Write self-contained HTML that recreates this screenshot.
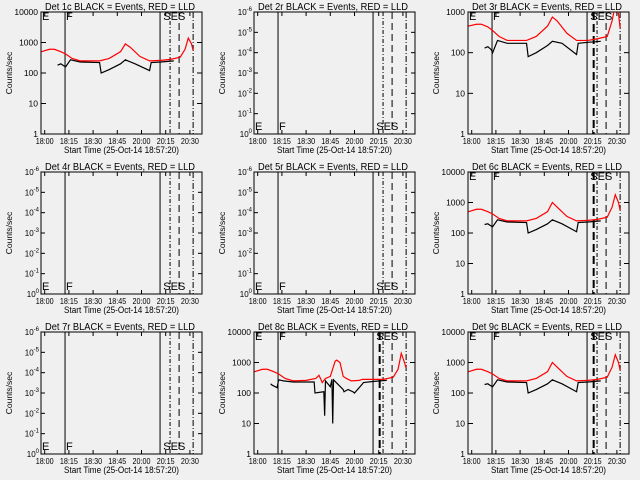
<!DOCTYPE html>
<html><head><meta charset="utf-8"><style>
html,body{margin:0;padding:0;background:#f0f0f0;}
svg{display:block;font-family:"Liberation Sans",sans-serif;}
</style></head><body>
<svg id="c" width="640" height="480" viewBox="0 0 640 480"><defs><clipPath id="pc"><rect x="41" y="12" width="161" height="122"/></clipPath></defs></svg>
<script>
const titles = ["Det 1c BLACK = Events, RED = LLD","Det 2r BLACK = Events, RED = LLD","Det 3r BLACK = Events, RED = LLD","Det 4r BLACK = Events, RED = LLD","Det 5r BLACK = Events, RED = LLD","Det 6c BLACK = Events, RED = LLD","Det 7r BLACK = Events, RED = LLD","Det 8c BLACK = Events, RED = LLD","Det 9c BLACK = Events, RED = LLD"];
const xTickMinutes = [0,15,30,45,60,75,90];
const xTickLabels = ["18:00","18:15","18:30","18:45","20:00","20:15","20:30"];
const markerMinutes = [12.6,71.5,77.7,83.3,92];
const redT = [-2,3,6,10,13,17,22,30,34,40,47,50,53,59,65,72,78,84,87,89,91,92];
const red1 = [500,600,600,500,420,300,250,250,250,300,500,900,700,350,250,260,280,330,600,1400,900,550];
const red3 = [450,500,500,430,350,250,200,200,200,250,450,750,600,300,200,200,220,250,600,1500,900,400];
const red6 = [500,600,600,500,420,300,250,250,250,300,500,1000,700,350,250,260,280,330,700,1800,1000,550];
const blkT = [8,10,12,13,16,22,34,35,40,47,50,56,65,66,72,80];
const blk1 = [180,200,170,160,270,230,220,100,130,200,270,200,120,220,230,250];
const blk3 = [130,140,120,100,200,170,170,80,100,150,190,170,90,170,180,190];
const blk6 = [190,200,170,160,270,230,220,100,130,200,270,200,110,220,230,250];
const red8T = [-2,3,6,10,13,17,22,30,36,38,40,42,45,48,49,51,53,55,58,63,65,72,78,84,87,89,91,92];
const red8 = [500,600,600,500,420,300,250,260,300,380,220,300,350,1100,1200,1000,350,300,250,260,280,280,280,330,600,2000,1000,650];
const blk8T = [8,9,12,13,16,22,35,35.5,41,41.5,42,45,46,46.5,47,53,53.5,56,59,60,65,65.5,72,80];
const blk8 = [200,180,150,270,250,230,230,100,110,18,250,160,280,10,270,130,110,130,110,100,200,220,240,260];

const NS="http://www.w3.org/2000/svg";
const svg=document.getElementById('c');
function mk(tag,attrs,parent){const e=document.createElementNS(NS,tag);for(const k in attrs)e.setAttribute(k,attrs[k]);(parent||svg).appendChild(e);return e;}

const panels=[
 {red:red1,rt:redT,blk:blk1,bt:blkT,ymin:1,ymax:10000,labs:["1","10","100","1000","10000"],thick:false},
 {empty:true},
 {red:red3,rt:redT,blk:blk3,bt:blkT,ymin:1,ymax:1000,labs:["1","10","100","1000"],thick:true},
 {empty:true},{empty:true},
 {red:red6,rt:redT,blk:blk6,bt:blkT,ymin:1,ymax:10000,labs:["1","10","100","1000","10000"],thick:true},
 {empty:true},
 {red:red8,rt:red8T,blk:blk8,bt:blk8T,ymin:1,ymax:10000,labs:["1","10","100","1000","10000"],thick:true},
 {red:red6,rt:redT,blk:blk6,bt:blkT,ymin:1,ymax:10000,labs:["1","10","100","1000","10000"],thick:true}
];
const offX=[0,213,427], offY=[0,160,320];
panels.forEach((p,i)=>{
  const ox=offX[i%3], oy=offY[Math.floor(i/3)];
  const g=mk('g',{transform:`translate(${ox},${oy})`});
  
  
  const L=41,R=202,T=12,B=134;
  const xs=t=>44.7+t/15*24.2;
  const ys=v=>B-(Math.log10(v)-Math.log10(p.ymin||1))/(Math.log10(p.ymax||10)-Math.log10(p.ymin||1))*(B-T);
  const ttl=mk('text',{x:45,y:10,'font-size':10.5,fill:'#000',textLength:150,lengthAdjust:'spacingAndGlyphs'},g);ttl.textContent=titles[i];
  
  const fr=mk('rect',{x:L,y:T,width:R-L,height:B-T,fill:'none',stroke:'#000','stroke-width':1},g);
  
  xTickMinutes.forEach((t,k)=>{const x=xs(t);
    mk('line',{x1:x,y1:B,x2:x,y2:B-4,stroke:'#000'},g);mk('line',{x1:x,y1:T,x2:x,y2:T+4,stroke:'#000'},g);
    const tx=mk('text',{x:x,y:B+10,'text-anchor':'middle','font-size':8.5,textLength:18,lengthAdjust:'spacingAndGlyphs'},g);tx.textContent=xTickLabels[k];
    });
  const xt=mk('text',{x:64,y:B+19,'font-size':9,textLength:115,lengthAdjust:'spacingAndGlyphs'},g);xt.textContent="Start Time (25-Oct-14 18:57:20)";
  
  const yt=mk('text',{x:0,y:0,'text-anchor':'middle','font-size':8.5,transform:`translate(12,${(T+B)/2}) rotate(-90)`},g);yt.textContent="Counts/sec";
  
  if(p.empty){
    const exps=["-6","-5","-4","-3","-2","-1","0"];
    exps.forEach((e,k)=>{const y=T+k*(B-T)/6;
      mk('line',{x1:L,y1:y,x2:L+4,y2:y,stroke:'#000'},g);mk('line',{x1:R,y1:y,x2:R-4,y2:y,stroke:'#000'},g);
      const tx=mk('text',{x:L-2,y:y+3,'text-anchor':'end','font-size':8},g);tx.textContent="10";
      const sp=mk('tspan',{dy:-4,'font-size':6},tx);sp.textContent=e;
      });
  } else {
    p.labs.forEach((lb,k)=>{const y=ys(Math.pow(10,k));
      mk('line',{x1:L,y1:y,x2:L+5,y2:y,stroke:'#000'},g);mk('line',{x1:R,y1:y,x2:R-5,y2:y,stroke:'#000'},g);
      const tx=mk('text',{x:L-3,y:y+3,'text-anchor':'end','font-size':8.5},g);tx.textContent=lb;
      });
  }
  const styles=[{},{},{da:'4,2,1,2'},{da:'7,4'},{da:'6,2,1,2'}];
  markerMinutes.forEach((t,k)=>{const x=xs(t);const a={x1:x,y1:T,x2:x,y2:B,stroke:'#000','stroke-width':1};
    if(styles[k].da)a['stroke-dasharray']=styles[k].da;const l=mk('line',a,g);
    });
  if(p.thick){const l=mk('line',{x1:xs(75.6),y1:T,x2:xs(75.6),y2:B,stroke:'#000','stroke-width':2,'stroke-dasharray':'8,4'},g);
    }
  const ly=p.empty?B-4:T+8;
  const e1=mk('text',{x:L+1,y:ly,'font-size':11},g);e1.textContent="E";
  const e2=mk('text',{x:xs(12.6)+1,y:ly,'font-size':11},g);e2.textContent="F";
  const e3=mk('text',{x:xs(73.5),y:ly,'font-size':11},g);e3.textContent="SES";
  if(!p.empty){
    const bp=mk('polyline',{points:p.bt.map((t,k)=>xs(t)+','+ys(p.blk[k])).join(' '),fill:'none',stroke:'#000','stroke-width':1.2,'clip-path':'url(#pc)'},g);
    
    const rp=mk('polyline',{points:p.rt.map((t,k)=>xs(t)+','+ys(p.red[k])).join(' '),fill:'none',stroke:'#ff0000','stroke-width':1.2,'clip-path':'url(#pc)'},g);
    
  }
});
</script>
</body></html>
